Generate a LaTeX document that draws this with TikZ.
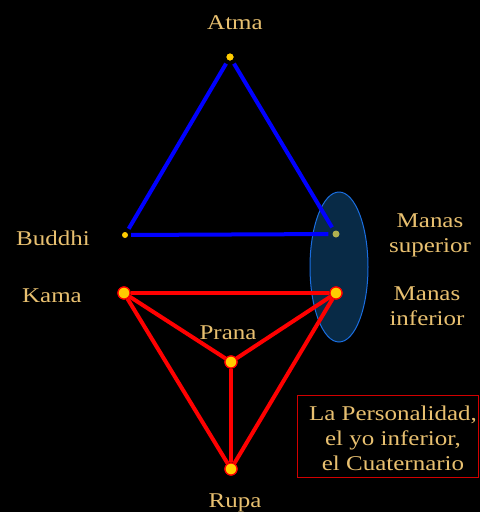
\documentclass[tikz,border=0pt]{standalone}
\usepackage{fontspec}
\usetikzlibrary{shapes.geometric}
\setmainfont[FakeStretch=1.19]{Liberation Serif}
\definecolor{gold}{RGB}{232,192,112}
\definecolor{dotyel}{RGB}{255,204,0}
\definecolor{olive2}{RGB}{176,176,80}
\definecolor{ellfill}{RGB}{8,42,70}
\definecolor{ellline}{RGB}{26,110,224}
\definecolor{boxred}{RGB}{210,0,0}
\tikzset{
  lbl/.style={text=gold,font=\fontsize{21}{25}\selectfont,inner sep=0pt,align=center},
  smalldot/.style={circle,fill=dotyel,minimum size=7pt,inner sep=0pt},
  bigdot/.style={circle,fill=dotyel,draw=red,line width=1.2pt,minimum size=12pt,inner sep=0pt},
  blueline/.style={blue,line width=4pt},
  redline/.style={red,line width=4pt},
}
\begin{document}
\begin{tikzpicture}[x=1pt,y=-1pt]
\fill[black] (0,0) rectangle (480,512);
\useasboundingbox (0,0) rectangle (480,512);
% ellipse
\node[ellipse,draw=ellline,fill=ellfill,line width=1pt,minimum width=58pt,minimum height=150pt,inner sep=0pt] (ell) at (339,267) {};
% dots
\node[smalldot] (atma) at (230,57) {};
\node[smalldot,minimum size=6pt] (buddhi) at (125,235) {};
\node[smalldot,fill=olive2] (msup) at (336,234) {};
\node[bigdot] (kama) at (124,293) {};
\node[bigdot] (minf) at (336,293) {};
\node[bigdot] (prana) at (231,362) {};
\node[bigdot] (rupa) at (231,469) {};
% blue triangle
\draw[blueline,shorten <=4pt,shorten >=4pt] (atma) -- (buddhi);
\draw[blueline,shorten <=4pt,shorten >=4pt] (atma) -- (msup);
\draw[blueline,shorten <=3pt,shorten >=4pt] (buddhi) -- (msup);
% red lines
\draw[redline] (kama) -- (minf);
\draw[redline] (kama) -- (prana);
\draw[redline] (kama) -- (rupa);
\draw[redline] (minf) -- (prana);
\draw[redline] (minf) -- (rupa);
\draw[redline] (prana) -- (rupa);
% redraw dots on top
\node[smalldot] at (atma) {};
\node[bigdot] at (kama) {};
\node[bigdot] at (minf) {};
\node[bigdot] at (prana) {};
\node[bigdot] at (rupa) {};
% labels
\node[lbl,anchor=base] (tatma) at (235,29) {Atma};
\node[lbl,anchor=base] (tbuddhi) at (53,245) {Buddhi};
\node[lbl,anchor=base] (tkama) at (52,302) {Kama};
\node[lbl,anchor=base] (tprana) at (228,339) {Prana};
\node[lbl,anchor=base] (trupa) at (235,507) {Rupa};
\node[lbl,anchor=base] (tmsup) at (430,252) {Manas\\superior};
\node[lbl,anchor=base] (tminf) at (427,325) {Manas\\inferior};
% box
\draw[boxred,line width=1.2pt] (297.5,395.5) rectangle (478.5,477.5);
\node[lbl,anchor=base] (tbox) at (393,470) {La Personalidad,\\el yo inferior,\\el Cuaternario};
\end{tikzpicture}
\end{document}
